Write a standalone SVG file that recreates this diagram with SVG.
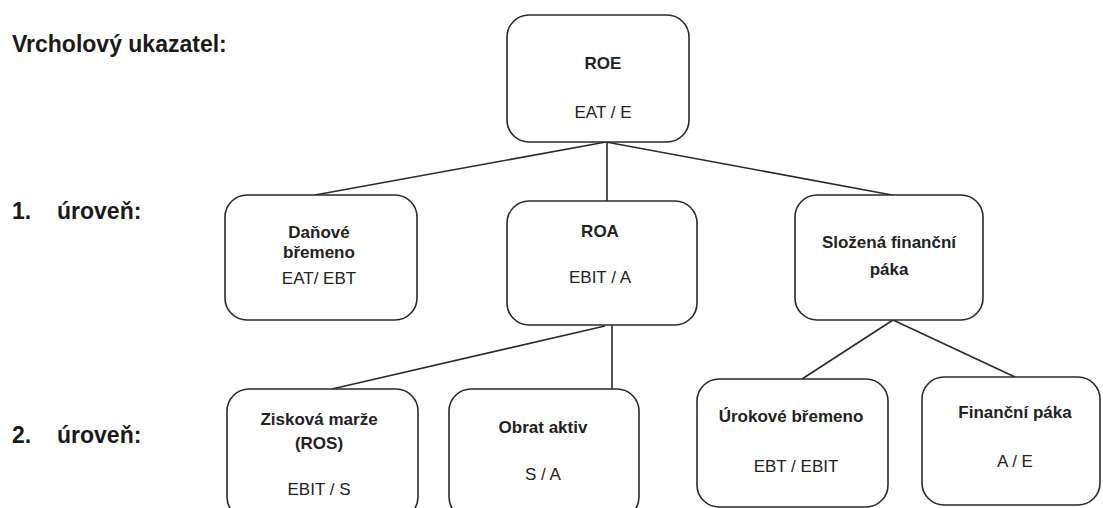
<svg xmlns="http://www.w3.org/2000/svg" width="1103" height="508" viewBox="0 0 1103 508">
<style>
.box{fill:#fff;stroke:#2a2a2a;stroke-width:1.6}
.lbl{font-family:"Liberation Sans",Arial,sans-serif;font-weight:bold;font-size:23px;fill:#1a1a1a}
.t{font-family:"Liberation Sans",Arial,sans-serif;font-size:17px;fill:#222;text-anchor:middle}
.b{font-weight:bold}
.conn line{stroke:#2a2a2a;stroke-width:1.6}
</style>
<rect width="1103" height="508" fill="#fff"/>
<g id="labels">
<text class="lbl" x="12" y="52">Vrcholový ukazatel:</text>
<text class="lbl" x="12" y="219">1.</text>
<text class="lbl" x="57" y="219">úroveň:</text>
<text class="lbl" x="12" y="443">2.</text>
<text class="lbl" x="57" y="443">úroveň:</text>
</g>
<g class="conn" id="connectors">
<line x1="606" y1="142" x2="315" y2="195"/>
<line x1="607" y1="142" x2="607" y2="201"/>
<line x1="606" y1="142" x2="892" y2="195"/>
<line x1="605" y1="326" x2="332" y2="389"/>
<line x1="612" y1="325" x2="612" y2="389"/>
<line x1="893" y1="320" x2="802" y2="379"/>
<line x1="893" y1="320" x2="1015" y2="377"/>
</g>
<g id="roe">
<rect class="box" x="507" y="15" width="182" height="127" rx="22"/>
<text class="t b" x="603" y="69">ROE</text>
<text class="t" x="603" y="118">EAT / E</text>
</g>
<g id="danove">
<rect class="box" x="225" y="195" width="192" height="125" rx="22"/>
<text class="t b" x="319" y="238">Daňové</text>
<text class="t b" x="319" y="258">břemeno</text>
<text class="t" x="319" y="284">EAT/ EBT</text>
</g>
<g id="roa">
<rect class="box" x="507" y="201" width="190" height="124" rx="22"/>
<text class="t b" x="600" y="237">ROA</text>
<text class="t" x="600" y="283">EBIT / A</text>
</g>
<g id="slozena">
<rect class="box" x="795" y="195" width="188" height="125" rx="22"/>
<text class="t b" x="889" y="248">Složená finanční</text>
<text class="t b" x="889" y="275">páka</text>
</g>
<g id="ziskova">
<rect class="box" x="227" y="389" width="191" height="130" rx="22"/>
<text class="t b" x="319" y="425">Zisková marže</text>
<text class="t b" x="319" y="449">(ROS)</text>
<text class="t" x="319" y="495">EBIT / S</text>
</g>
<g id="obrat">
<rect class="box" x="449" y="389" width="190" height="130" rx="22"/>
<text class="t b" x="543" y="433">Obrat aktiv</text>
<text class="t" x="543" y="480">S / A</text>
</g>
<g id="urokove">
<rect class="box" x="697" y="379" width="191" height="128" rx="22"/>
<text class="t b" x="791" y="422">Úrokové břemeno</text>
<text class="t" x="796" y="472">EBT / EBIT</text>
</g>
<g id="financni">
<rect class="box" x="922" y="377" width="178" height="128" rx="22"/>
<text class="t b" x="1015" y="418">Finanční páka</text>
<text class="t" x="1015" y="467">A / E</text>
</g>
</svg>
